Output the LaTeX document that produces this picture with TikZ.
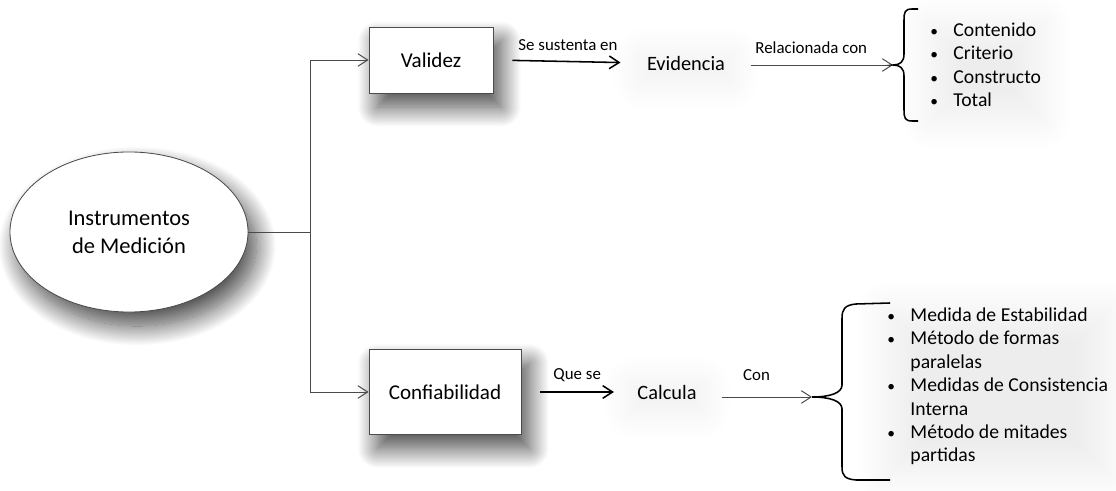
\documentclass[tikz,border=0pt]{standalone}
\usepackage{fontspec}
\setmainfont{Carlito}
\usetikzlibrary{shapes,arrows.meta,positioning,calc,shadows.blur}
\usepackage{xcolor}
\definecolor{linea}{HTML}{4A4A4A}

\begin{document}
\begin{tikzpicture}[
x=0.025cm, y=-0.025cm,
caja/.style={
    draw=black!70,
    fill=white,
    rectangle,
    line width=0.6pt,
    font=\fontsize{15}{17}\selectfont,
    blur shadow={shadow xshift=6pt, shadow yshift=-10pt, shadow blur radius=14pt,
                 shadow blur steps=25, shadow opacity=72}
},
texto/.style={font=\fontsize{14.5}{17}\selectfont, inner sep=3pt},
lista/.style={font=\fontsize{14}{16.6}\selectfont, anchor=west, inner sep=0pt, align=left},
etiqueta/.style={font=\fontsize{12}{14}\selectfont, inner sep=2pt},
glow/.style={blur shadow={shadow xshift=0pt, shadow yshift=-4pt, shadow blur radius=22pt,
                          shadow blur steps=25, shadow opacity=7}},
fina/.style={draw=linea, line width=0.7pt, -{Straight Barb[length=7pt,width=9pt]}},
gruesa/.style={draw=black, line width=1.1pt, -{Straight Barb[length=7pt,width=9pt]}},
llave/.style={draw=black, line width=1.1pt}
]
\useasboundingbox (0,0) rectangle (1116,491);

\node[caja, ellipse, minimum width=5.95cm, minimum height=4cm, align=center,
      font=\fontsize{16}{20}\selectfont] (instr) at (129,232) {Instrumentos\\de Medición};

\node[caja, minimum width=3.1cm, minimum height=1.65cm] (validez) at (431,60) {Validez};
\node[caja, minimum width=3.8cm, minimum height=2.125cm] (confiab) at (445,392) {Confiabilidad};

\node[texto, glow] (evidencia) at (686,63) {Evidencia};
\node[texto, glow] (calcula) at (667,392) {Calcula};

\coordinate (split) at (310,232);
\coordinate (llave1) at (893,65);
\coordinate (llave2) at (812,397);

% Instrumentos -- Validez / Confiabilidad
\draw[linea, line width=0.7pt] (instr.east) -- (split);
\draw[fina] (split) |- (validez.west);
\draw[fina] (split) |- (confiab.west);

% Validez -- Evidencia
\draw[gruesa, shorten <=0.475cm, shorten >=0.55cm] (validez.east) -- (evidencia.west)
    node[midway, above=5pt, etiqueta] {Se sustenta en};

% Confiabilidad -- Calcula
\draw[gruesa, shorten <=0.475cm, shorten >=0.475cm] (confiab.east) -- (calcula.west)
    node[midway, above=5pt, etiqueta] {Que se};

% Evidencia -- llave
\draw[fina, shorten <=0.525cm] (evidencia.east |- llave1) -- (llave1)
    node[midway, above=6pt, etiqueta] {Relacionada con};

% Calcula -- llave
\draw[fina, shorten <=0.525cm] (calcula.east |- llave2) -- (llave2)
    node[midway, above=9pt, etiqueta] {Con};

% llaves
\draw[llave] (918,9) -- (912,9) .. controls (905,9) and (904,12) .. (904,20) -- (904,54)
    .. controls (904,62) and (900,65) .. (893,65)
    .. controls (900,65) and (904,68) .. (904,76) -- (904,110)
    .. controls (904,118) and (905,121) .. (912,121) -- (918,121);

\draw[llave] (890,303) -- (856,304) .. controls (845,305) and (842,309) .. (842,318) -- (842,385)
    .. controls (842,393) and (830,397) .. (812,397)
    .. controls (830,397) and (842,401) .. (842,409) -- (842,467)
    .. controls (842,476) and (845,479) .. (856,480) -- (890,480);

\node[lista, glow] (lista1) at (930,67) {%
\begin{tabular}{@{}l@{\hspace{11pt}}l@{}}
{\fontsize{11}{11}\selectfont\textbullet} & Contenido\\
{\fontsize{11}{11}\selectfont\textbullet} & Criterio\\
{\fontsize{11}{11}\selectfont\textbullet} & Constructo\\
{\fontsize{11}{11}\selectfont\textbullet} & Total
\end{tabular}};

\node[lista, glow] (lista2) at (887,387) {%
\begin{tabular}{@{}l@{\hspace{11pt}}l@{}}
{\fontsize{11}{11}\selectfont\textbullet} & Medida de Estabilidad\\
{\fontsize{11}{11}\selectfont\textbullet} & Método de formas\\
 & paralelas\\
{\fontsize{11}{11}\selectfont\textbullet} & Medidas de Consistencia\\
 & Interna\\
{\fontsize{11}{11}\selectfont\textbullet} & Método de mitades\\
 & partidas
\end{tabular}};

\end{tikzpicture}
\end{document}
